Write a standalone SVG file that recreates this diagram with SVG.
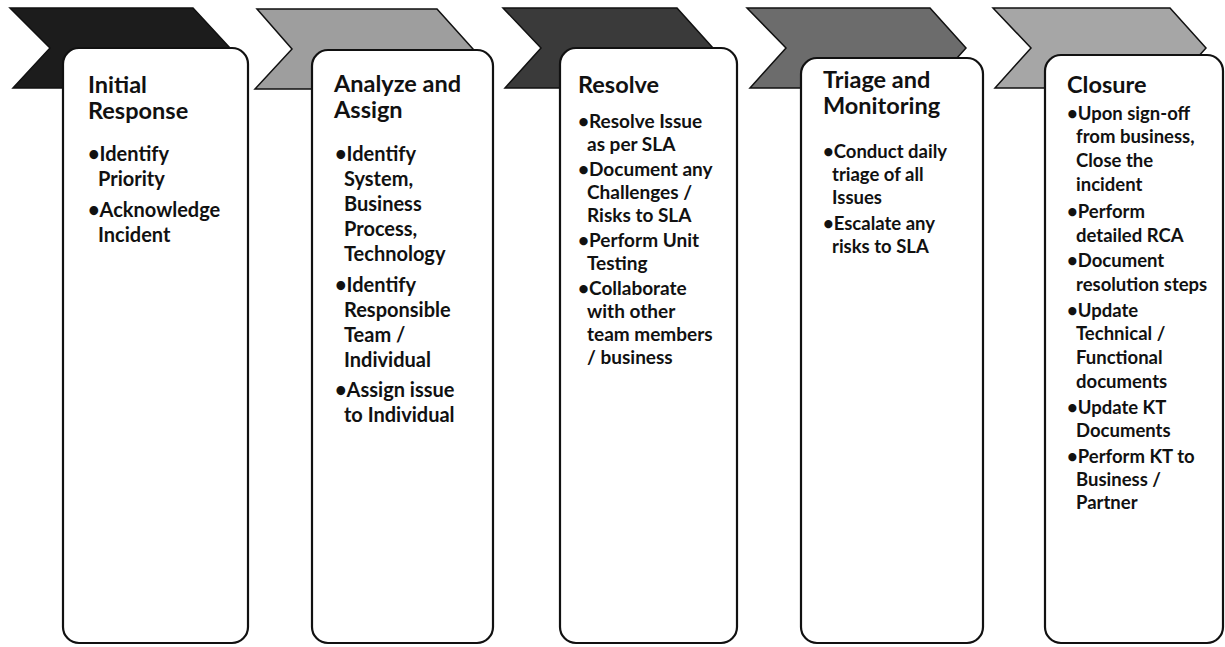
<svg xmlns="http://www.w3.org/2000/svg" width="1225" height="647" viewBox="0 0 1225 647">
<style>
.chev{stroke:#111;stroke-width:1.5}
.box{fill:#fff;stroke:#111;stroke-width:2.2}
.t{font-family:Lato,"Liberation Sans",sans-serif;font-weight:bold;font-size:23.5px;fill:#111}
.b{font-family:Lato,"Liberation Sans",sans-serif;font-weight:bold;font-size:20px;fill:#111}
.s{font-family:Lato,"Liberation Sans",sans-serif;font-weight:bold;font-size:19px;fill:#111}
.c{font-family:Lato,"Liberation Sans",sans-serif;font-weight:bold;font-size:18.5px;fill:#111}
</style>
<rect width="1225" height="647" fill="#fff"/>
<g id="node1">
<polygon class="chev" fill="#1c1c1c" points="10,8 193,8 230,48 193,88 13,88 50,48"/>
<rect class="box" x="63" y="48" width="185" height="595" rx="16"/>
<text class="t" x="88" y="93">Initial</text>
<text class="t" x="88" y="119">Response</text>
<text class="b"><tspan x="88" y="161">•Identify</tspan><tspan x="98" y="186">Priority</tspan><tspan x="88" y="217">•Acknowledge</tspan><tspan x="98" y="242">Incident</tspan></text>
</g>
<g id="node2">
<polygon class="chev" fill="#9e9e9e" points="257,9 437,9 473,49 437,89 255,89 292,49"/>
<rect class="box" x="312" y="50" width="181" height="593" rx="16"/>
<text class="t" x="334" y="92">Analyze and</text>
<text class="t" x="334" y="118">Assign</text>
<text class="b"><tspan x="335" y="161">•Identify</tspan><tspan x="344" y="186">System,</tspan><tspan x="344" y="211">Business</tspan><tspan x="344" y="236">Process,</tspan><tspan x="344" y="261">Technology</tspan><tspan x="335" y="292">•Identify</tspan><tspan x="344" y="317">Responsible</tspan><tspan x="344" y="342">Team /</tspan><tspan x="344" y="367">Individual</tspan><tspan x="335" y="397">•Assign issue</tspan><tspan x="344" y="422">to Individual</tspan></text>
</g>
<g id="node3">
<polygon class="chev" fill="#3a3a3a" points="503,8 677,8 713,48 677,88 505,88 541,48"/>
<rect class="box" x="560" y="48" width="177" height="595" rx="16"/>
<text class="t" x="578" y="93">Resolve</text>
<text class="s"><tspan x="578" y="128">•Resolve Issue</tspan><tspan x="587" y="151">as per SLA</tspan><tspan x="578" y="176">•Document any</tspan><tspan x="587" y="199">Challenges /</tspan><tspan x="587" y="222">Risks to SLA</tspan><tspan x="578" y="247">•Perform Unit</tspan><tspan x="587" y="270">Testing</tspan><tspan x="578" y="295">•Collaborate</tspan><tspan x="587" y="318">with other</tspan><tspan x="587" y="341">team members</tspan><tspan x="587" y="364">/ business</tspan></text>
</g>
<g id="node4">
<polygon class="chev" fill="#6c6c6c" points="747,8 930,8 966,48 930,88 750,88 786,48"/>
<rect class="box" x="801" y="58" width="182" height="585" rx="16"/>
<text class="t" x="823" y="88">Triage and</text>
<text class="t" x="823" y="114">Monitoring</text>
<text class="c"><tspan x="823" y="158">•Conduct daily</tspan><tspan x="832" y="181">triage of all</tspan><tspan x="832" y="204">Issues</tspan><tspan x="823" y="230">•Escalate any</tspan><tspan x="832" y="253">risks to SLA</tspan></text>
</g>
<g id="node5">
<polygon class="chev" fill="#a6a6a6" points="993,8 1170,8 1206,48 1170,88 995,88 1031,48"/>
<rect class="box" x="1045" y="55" width="178" height="588" rx="16"/>
<text class="t" x="1067" y="93">Closure</text>
<text class="c"><tspan x="1067" y="120">•Upon sign-off</tspan><tspan x="1076" y="143">from business,</tspan><tspan x="1076" y="167">Close the</tspan><tspan x="1076" y="191">incident</tspan><tspan x="1067" y="218">•Perform</tspan><tspan x="1076" y="242">detailed RCA</tspan><tspan x="1067" y="267">•Document</tspan><tspan x="1076" y="291">resolution steps</tspan><tspan x="1067" y="317">•Update</tspan><tspan x="1076" y="340">Technical /</tspan><tspan x="1076" y="364">Functional</tspan><tspan x="1076" y="388">documents</tspan><tspan x="1067" y="414">•Update KT</tspan><tspan x="1076" y="437">Documents</tspan><tspan x="1067" y="463">•Perform KT to</tspan><tspan x="1076" y="486">Business /</tspan><tspan x="1076" y="509">Partner</tspan></text>
</g>
<g id="connectors"></g>
</svg>
